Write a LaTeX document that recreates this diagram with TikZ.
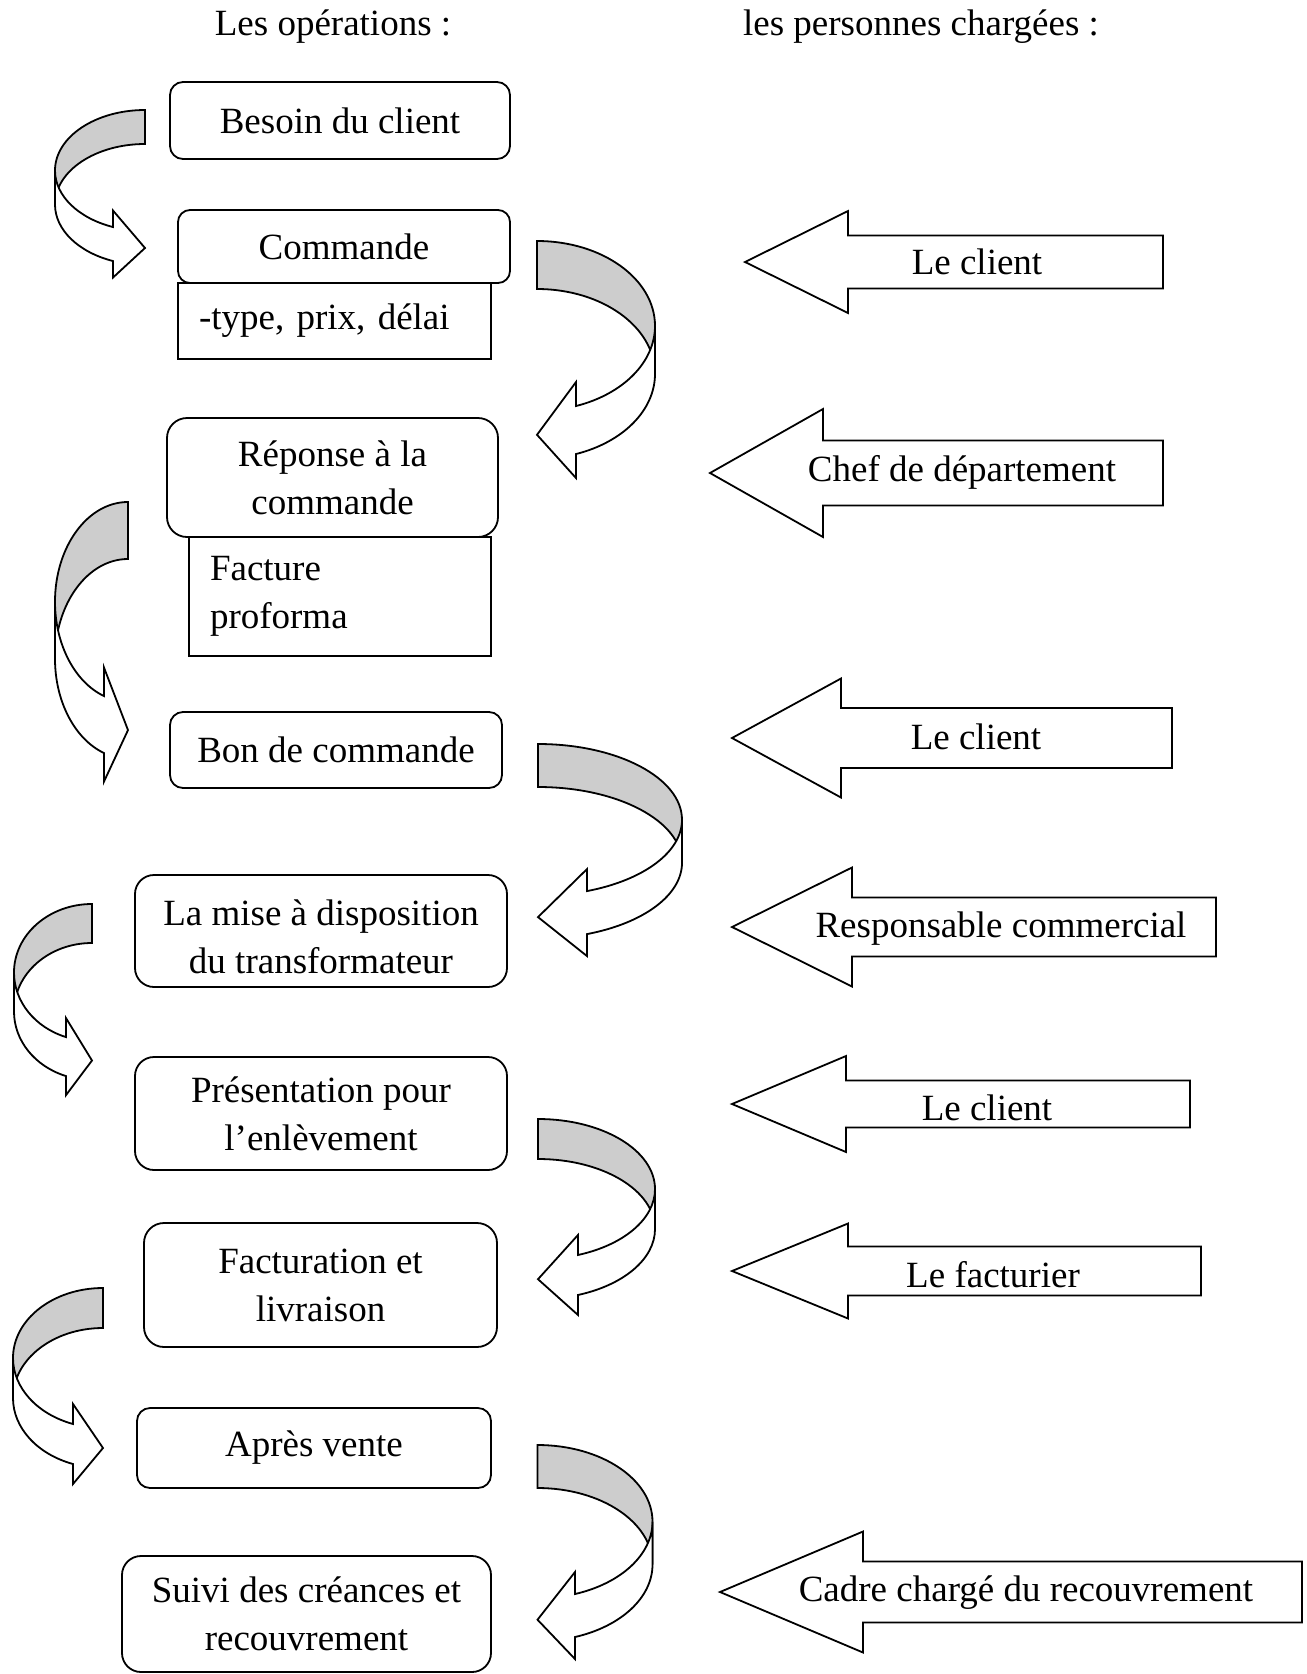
\documentclass[tikz,border=0pt]{standalone}
\usepackage{fontspec}
\setmainfont{Liberation Serif}
\frenchspacing
\definecolor{bandgrey}{RGB}{205,205,205}
\tikzset{
  every node/.style={font=\fontsize{37}{48}\selectfont},
  outline/.style={draw=black, line width=1.8pt, line join=miter},
  opbox/.style={outline, fill=white, inner sep=0pt, align=center},
  notebox/.style={outline, fill=white, inner xsep=21pt, inner ysep=0pt, align=left},
  whotext/.style={anchor=base},
  % curved band arrow: tail top at the pic origin, bending left and coming back with its head
  % #1 width, #2 half height of the band ellipse, #3 band thickness, #4 head length, #5 head overhang
  pics/bendarrow/.style n args={5}{code={%
    \pgfmathsetmacro\bendang{180-acos(#4/#1)}%
    \pgfmathsetmacro\benddy{#2*sin(\bendang)}%
    \draw[outline, fill=bandgrey] (0,#3)
      arc[start angle=270, end angle=180, x radius=#1, y radius=#2]
      -- ++(0,-#3)
      arc[start angle=180, end angle=270, x radius=#1, y radius=#2] -- cycle;
    \draw[outline, fill=white] (-#1,#2)
      arc[start angle=180, end angle=\bendang, x radius=#1, y radius=#2]
      -- ++(0,-#5) -- (0,{2*#2+#3/2}) -- (-#4,{#2+#3+\benddy+#5}) -- ++(0,-#5)
      arc[start angle=\bendang, end angle=180, x radius=#1, y radius=#2] -- cycle;
  }},
  % block arrow pointing left, origin at its tip
  % #1 head length, #2 total length, #3 head half height, #4 shaft half height
  pics/leftblock/.style n args={4}{code={%
    \draw[outline, fill=white] (0,0) -- (#1,-#3) -- (#1,-#4) -- (#2,-#4)
      -- (#2,#4) -- (#1,#4) -- (#1,#3) -- cycle;
  }}
}
\begin{document}
\begin{tikzpicture}[x=1pt,y=-1pt]
\useasboundingbox (0,0) rectangle (1307,1674);
\fill[white] (0,0) rectangle (1307,1674);

% column headings
\node[anchor=base] (hdops) at (333,35) {Les opérations :};
\node[anchor=base] (hdpers) at (921,35) {les personnes chargées :};

% sequence of operations
\node[opbox, rounded corners=13pt, minimum width=340pt, minimum height=77pt] (b1) at (340,120.5) {Besoin du client};
\node[opbox, rounded corners=12pt, minimum width=332pt, minimum height=73pt] (b2) at (344,246.5) {Commande};
\node[notebox, text width=271pt, minimum height=76pt] (n2) at (334.5,321) {-type, prix, délai};
\node[opbox, rounded corners=20pt, minimum width=331pt, minimum height=119pt] (b3) at (332.5,477.5) {Réponse à la\\commande};
\node[notebox, text width=260pt, minimum height=119pt] (n3) at (340,596.5) {Facture\\proforma};
\node[opbox, rounded corners=13pt, minimum width=332pt, minimum height=76pt] (b4) at (336,750) {Bon de commande};
\node[opbox, rounded corners=19pt, minimum width=372pt, minimum height=112pt, text height=86pt] (b5) at (321,931) {La mise à disposition\\du transformateur};
\node[opbox, rounded corners=19pt, minimum width=372pt, minimum height=113pt] (b6) at (321,1113.5) {Présentation pour\\l’enlèvement};
\node[opbox, rounded corners=20pt, minimum width=353pt, minimum height=124pt] (b7) at (320.5,1285) {Facturation et\\livraison};
\node[opbox, rounded corners=13pt, minimum width=354pt, minimum height=80pt] (b8) at (314,1448) {Après vente};
\node[opbox, rounded corners=19pt, minimum width=369pt, minimum height=116pt] (b9) at (306.5,1614) {Suivi des créances et\\recouvrement};

% curved arrows on the left side
\pic (c1) at (145,110) {bendarrow={90}{60.5}{34}{32}{16.5}};
\pic (c3) at (128,502) {bendarrow={73}{99.8}{57}{24}{28.5}};
\pic (c5) at (92,904) {bendarrow={78}{68.5}{39}{26}{19}};
\pic (c7) at (103,1288) {bendarrow={90}{70}{40}{30}{20}};

% curved arrows on the right side
\pic[xscale=-1] (c2) at (537,241) {bendarrow={118}{84.9}{48}{39}{24}};
\pic[xscale=-1] (c4) at (538,744) {bendarrow={144}{75.8}{43}{49}{22}};
\pic[xscale=-1] (c6) at (538,1119) {bendarrow={117}{70.1}{40}{40}{20}};
\pic[xscale=-1] (c8) at (537.5,1445) {bendarrow={115}{76.6}{43}{37.5}{22}};

% people in charge
\pic (a1) at (745,262) {leftblock={103}{418}{51}{26.5}};
\node[whotext] (w1) at (977,274) {Le client};
\pic (a2) at (710,473) {leftblock={113}{453}{64}{32.5}};
\node[whotext] (w2) at (962,481) {Chef de département};
\pic (a3) at (732,738) {leftblock={109}{440}{59.5}{30}};
\node[whotext] (w3) at (976,749) {Le client};
\pic (a4) at (732,927) {leftblock={120}{484}{59.5}{29.5}};
\node[whotext] (w4) at (1001,937) {Responsable commercial};
\pic (a5) at (732,1104) {leftblock={114}{458}{48}{23.5}};
\node[whotext] (w5) at (987,1120) {Le client};
\pic (a6) at (732,1271) {leftblock={116}{469}{47.5}{24.5}};
\node[whotext] (w6) at (993,1287) {Le facturier};
\pic (a7) at (720,1592) {leftblock={143}{582}{60.5}{30.5}};
\node[whotext] (w7) at (1026,1601) {Cadre chargé du recouvrement};
\end{tikzpicture}
\end{document}
